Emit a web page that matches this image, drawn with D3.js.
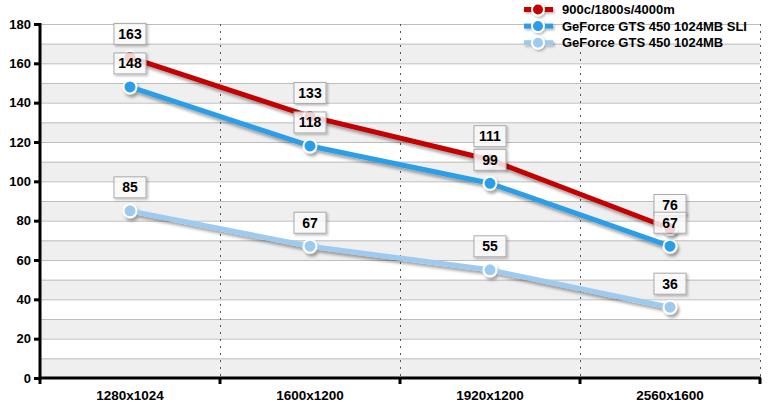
<!DOCTYPE html>
<html><head><meta charset="utf-8">
<script src="https://cdn.jsdelivr.net/npm/d3@7"></script>
<style>body{margin:0;background:#fff}svg{display:block;font-family:"Liberation Sans",Arial,sans-serif}</style>
</head><body><svg id="c" width="770" height="409"></svg>
<script>
const categories = ["1280x1024","1600x1200","1920x1200","2560x1600"];
const seriesNames = ["900c/1800s/4000m","GeForce GTS 450 1024MB SLI","GeForce GTS 450 1024MB"];
const seriesA = [163,133,111,76];
const seriesB = [148,118,99,67];
const seriesC = [85,67,55,36];
const colors = ["#c40000","#2c9ee6","#9dcbf0"];
const yTicks = [0,20,40,60,80,100,120,140,160,180];

const svg = d3.select("#c");
const L=40,R=760,T=24,B=378;
const x = d3.scaleBand().domain(categories).range([L,R]);
const y = d3.scaleLinear().domain([0,180]).range([B,T]);

const defs = svg.append("defs");
const f = defs.append("filter").attr("id","sh").attr("x","-20%").attr("y","-50%").attr("width","140%").attr("height","200%");
f.append("feDropShadow").attr("dx",2).attr("dy",3).attr("stdDeviation",1.8).attr("flood-color","#000").attr("flood-opacity",0.35);
const f2 = defs.append("filter").attr("id","sh2").attr("x","-30%").attr("y","-30%").attr("width","160%").attr("height","160%");
f2.append("feDropShadow").attr("dx",1.5).attr("dy",1.5).attr("stdDeviation",1).attr("flood-color","#000").attr("flood-opacity",0.3);

// bands
const bands = d3.range(0,180,20);
svg.append("g").selectAll("rect").data(bands).join("rect")
  .attr("x",L).attr("width",R-L).attr("y",d=>y(d+10)).attr("height",d=>y(d)-y(d+10)).attr("fill","#efefef");
// gridlines
svg.append("g").selectAll("line").data(d3.range(10,190,10)).join("line")
  .attr("x1",L).attr("x2",R).attr("y1",d=>y(d)+0.5).attr("y2",d=>y(d)+0.5).attr("stroke","#bdbdbd").attr("stroke-width",1);
// vertical dotted
const bounds = categories.map(c=>x(c)+x.bandwidth());
svg.append("g").selectAll("line").data(bounds).join("line")
  .attr("x1",d=>d+0.5).attr("x2",d=>d+0.5).attr("y1",T).attr("y2",B)
  .attr("stroke","#555").attr("stroke-width",1).attr("stroke-dasharray","2,5");

// axes
const ya = d3.axisLeft(y).tickValues(yTicks).tickSize(6).tickPadding(3);
const gy = svg.append("g").attr("transform",`translate(${L},0)`).call(ya);
gy.select(".domain").attr("stroke","#000").attr("stroke-width",3).attr("d",`M0,${T-1}V${B}`);
gy.selectAll(".tick line").attr("stroke","#000").attr("stroke-width",3);
gy.selectAll(".tick text").attr("font-size",13).attr("font-weight","bold").attr("fill","#000").attr("font-family","Liberation Sans, Arial, sans-serif");

const xa = d3.axisBottom(x).tickSize(0).tickPadding(12);
const gx = svg.append("g").attr("transform",`translate(0,${B})`).call(xa);
gx.select(".domain").attr("stroke","#000").attr("stroke-width",3).attr("d",`M${L-1},0H${R+1}`);
gx.selectAll(".tick text").attr("font-size",13.5).attr("font-weight","bold").attr("fill","#000").attr("font-family","Liberation Sans, Arial, sans-serif");
gx.append("g").selectAll("line").data([L].concat(bounds)).join("line")
  .attr("x1",d=>d).attr("x2",d=>d).attr("y1",0).attr("y2",6).attr("stroke","#000").attr("stroke-width",3);

const cx = c=>x(c)+x.bandwidth()/2;
const allSeries = [seriesA,seriesB,seriesC];
const line = d3.line().x((d,i)=>cx(categories[i])).y(d=>y(d));
[2,1,0].forEach(si=>{
  const g = svg.append("g").attr("filter","url(#sh)");
  g.append("path").datum(allSeries[si]).attr("d",line).attr("fill","none").attr("stroke",colors[si]).attr("stroke-width",5).attr("stroke-linejoin","round");
  g.selectAll("circle").data(allSeries[si]).join("circle")
    .attr("cx",(d,i)=>cx(categories[i])).attr("cy",d=>y(d)).attr("r",6.5)
    .attr("fill",colors[si]).attr("stroke","#fff").attr("stroke-width",2);
});
// labels
[0,1,2].forEach(si=>{
  const g = svg.append("g");
  allSeries[si].forEach((v,i)=>{
    const px = cx(categories[i]), py = y(v)-23.5;
    const lg = g.append("g").attr("transform",`translate(${px},${py})`);
    lg.append("rect").attr("x",-16).attr("y",-10.5).attr("width",32).attr("height",21)
      .attr("fill","#fff").attr("fill-opacity",0.8).attr("stroke","#aaa").attr("stroke-width",1).attr("filter","url(#sh2)");
    lg.append("text").attr("text-anchor","middle").attr("dy","0.36em").attr("font-size",14).attr("font-weight","bold").attr("fill","#000").text(v);
  });
});
// legend
const lgd = svg.append("g");
seriesNames.forEach((n,i)=>{
  const ly = 9.5 + i*16.6;
  const g = lgd.append("g").attr("filter","url(#sh2)");
  g.append("line").attr("x1",524).attr("x2",553).attr("y1",ly).attr("y2",ly).attr("stroke",colors[i]).attr("stroke-width",5);
  g.append("circle").attr("cx",538).attr("cy",ly).attr("r",6).attr("fill",colors[i]).attr("stroke","#fff").attr("stroke-width",2);
  lgd.append("text").attr("x",562).attr("y",ly).attr("dy","0.35em").attr("font-size",13).attr("font-weight","bold").attr("fill","#000").text(n);
});
</script></body></html>
